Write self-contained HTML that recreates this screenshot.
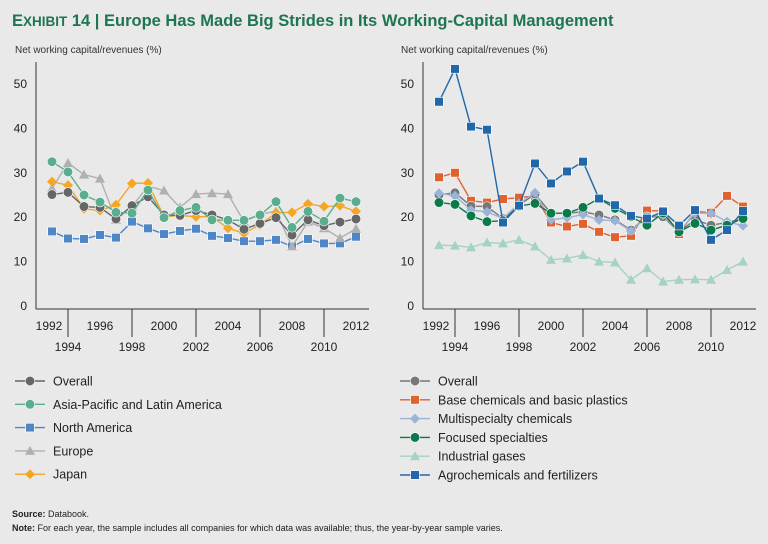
<!DOCTYPE html>
<html><head><meta charset="utf-8"><style>
body{margin:0;background:#e9e9e9;font-family:"Liberation Sans",sans-serif;}
#wrap{position:relative;width:768px;height:544px;overflow:hidden;background:#e9e9e9}
svg text{font-family:"Liberation Sans",sans-serif;}
</style></head><body><div id="wrap">
<svg id="svg" width="768" height="544">
<text x="12" y="26" fill="#1d7650" font-size="16.5" font-weight="bold">E<tspan font-size="13.5">XHIBIT</tspan> 14 | Europe Has Made Big Strides in Its Working-Capital Management</text>
<text x="15" y="53" fill="#333" font-size="10">Net working capital/revenues (%)</text>
<text x="401" y="53" fill="#333" font-size="10">Net working capital/revenues (%)</text>
<text x="12" y="517" fill="#222" font-size="9"><tspan font-weight="bold">Source:</tspan> Databook.</text>
<text x="12" y="531" fill="#222" font-size="9"><tspan font-weight="bold">Note:</tspan> For each year, the sample includes all companies for which data was available; thus, the year-by-year sample varies.</text>
</svg>
</div>
<script>
const years=[1993,1994,1995,1996,1997,1998,1999,2000,2001,2002,2003,2004,2005,2006,2007,2008,2009,2010,2011,2012];
const yTicks=[0,10,20,30,40,50];
const xTickYears=[1992,1994,1996,1998,2000,2002,2004,2006,2008,2010,2012];
// left chart
const leftOverall=[25.1,25.6,22.4,22.2,19.6,22.6,24.6,20.5,20.4,21.5,20.5,19.4,17.3,18.6,19.9,16.0,19.4,18.1,18.9,19.6];
const leftAsia=[32.5,30.2,25.0,23.4,21.1,20.9,26.1,19.9,21.5,22.2,19.4,19.3,19.3,20.5,23.5,17.7,21.3,19.1,24.3,23.5];
const leftNorthAmerica=[16.8,15.2,15.1,16.0,15.4,19.0,17.5,16.2,16.9,17.4,15.8,15.3,14.6,14.6,14.9,13.4,15.1,14.1,14.1,15.6];
const leftEurope=[26.5,32.2,29.6,28.7,19.4,22.4,27.0,26.0,22.2,25.2,25.4,25.2,19.0,20.7,21.3,13.4,19.0,17.5,15.3,17.4];
const leftJapan=[28.0,27.2,21.9,21.5,22.8,27.6,27.7,20.1,20.4,20.1,20.1,17.5,16.4,18.3,21.0,21.1,23.0,22.4,22.6,21.3];
// right chart
const rightOverall=[25.0,25.5,22.5,22.4,19.7,22.7,25.2,20.9,20.9,21.2,20.5,19.4,17.1,20.1,20.1,16.7,19.4,18.2,18.8,19.7];
const rightBase=[29.0,30.0,23.7,23.3,24.1,24.4,24.8,18.8,17.9,18.5,16.7,15.5,15.8,21.5,21.4,16.2,21.3,21.0,24.8,22.4];
const rightMulti=[25.4,24.8,21.6,21.2,19.7,23.1,25.5,19.4,19.9,20.6,19.4,19.2,16.9,20.1,20.5,16.7,20.9,20.9,19.0,18.1];
const rightFocused=[23.3,22.9,20.3,19.0,19.2,22.5,23.1,20.9,20.9,22.2,24.2,22.0,20.1,18.2,20.9,16.7,18.6,17.1,18.2,19.7];
const rightGases=[13.7,13.6,13.2,14.3,14.1,14.9,13.4,10.4,10.7,11.5,10.0,9.8,5.9,8.5,5.5,5.9,6.0,5.9,8.1,10.0];
const rightAgro=[46.0,53.4,40.4,39.7,18.8,22.6,32.1,27.6,30.3,32.5,24.2,22.7,20.3,19.7,21.3,18.1,21.6,14.9,17.1,21.4];

const NS="http://www.w3.org/2000/svg";
const svg=document.getElementById('svg');
function mk(tag,attrs){const e=document.createElementNS(NS,tag);for(const k in attrs)e.setAttribute(k,attrs[k]);svg.appendChild(e);return e;}
function yScale(v){return 306-v*4.44;}

function marker(shape,x,y,color){
  if(shape==='circle')return mk('circle',{cx:x,cy:y,r:4.8,fill:color,stroke:'#fff','stroke-width':0.6});
  if(shape==='square')return mk('rect',{x:x-4.3,y:y-4.3,width:8.6,height:8.6,fill:color,stroke:'#fff','stroke-width':0.6});
  if(shape==='triangle')return mk('polygon',{points:`${x},${y-5} ${x+5},${y+4} ${x-5},${y+4}`,fill:color});
  return mk('polygon',{points:`${x},${y-5} ${x+5},${y} ${x},${y+5} ${x-5},${y}`,fill:color});
}

function drawChart(x0,series,prefix){
  const xScale=yr=>x0+(yr-1992)*16;
  const ax=mk('line',{x1:x0,y1:62,x2:x0,y2:309,stroke:'#333','stroke-width':1});
  
  
  const bx=mk('line',{x1:x0,y1:309,x2:x0+333,y2:309,stroke:'#333','stroke-width':1});
  
  
  yTicks.forEach(t=>{
    const tx=mk('text',{x:x0-9,y:yScale(t)+4,'text-anchor':'end','font-size':12,fill:'#222'});
    tx.textContent=t;
    
    
  });
  xTickYears.forEach((yr,i)=>{
    const xx=xScale(yr);
    const low=i%2===1;
    if(low){
      const tk=mk('line',{x1:xx,y1:309,x2:xx,y2:337,stroke:'#333','stroke-width':1});
      
      
    }
    let lx=xx; if(yr===1992)lx=xx+13;
    const tx=mk('text',{x:lx,y:low?351:330,'text-anchor':'middle','font-size':12,fill:'#222'});
    tx.textContent=yr;
    
    
  });
  series.forEach(s=>{
    const pts=s.vals.map((v,i)=>xScale(years[i])+','+yScale(v)).join(' ');
    const pl=mk('polyline',{points:pts,fill:'none',stroke:s.color,'stroke-width':1.4});
    
    
    s.vals.forEach((v,i)=>{
      const m=marker(s.shape,xScale(years[i]),yScale(v),s.color);
      
      
    });
  });
}
function drawLegend(items,lx,ly,step){
  items.forEach((s,i)=>{
    const y=ly+i*step;
    const ll=mk('line',{x1:lx,y1:y,x2:lx+30,y2:y,stroke:s.color,'stroke-width':1.4});
    
    
    const m=marker(s.shape,lx+15,y,s.color);
    
    
    const t=mk('text',{x:lx+38,y:y+4.5,'font-size':12.5,fill:'#222'});
    t.textContent=s.label;
    
    
  });
}
drawChart(36,[
 {key:'north-america',vals:leftNorthAmerica,color:'#4f86c6',shape:'square'},
 {key:'europe',vals:leftEurope,color:'#b0b0b0',shape:'triangle'},
 {key:'japan',vals:leftJapan,color:'#f5a623',shape:'diamond'},
 {key:'overall',vals:leftOverall,color:'#666',shape:'circle'},
 {key:'asia',vals:leftAsia,color:'#5aae8e',shape:'circle'}
],'left');
drawLegend([
 {label:'Overall',color:'#666',shape:'circle'},
 {label:'Asia-Pacific and Latin America',color:'#5aae8e',shape:'circle'},
 {label:'North America',color:'#4f86c6',shape:'square'},
 {label:'Europe',color:'#b0b0b0',shape:'triangle'},
 {label:'Japan',color:'#f5a623',shape:'diamond'}],15,381,23.3);
drawChart(423,[
 {key:'gases',vals:rightGases,color:'#a5d3bf',shape:'triangle'},
 {key:'base',vals:rightBase,color:'#e0622f',shape:'square'},
 {key:'overall',vals:rightOverall,color:'#777',shape:'circle'},
 {key:'multi',vals:rightMulti,color:'#9ab3d8',shape:'diamond'},
 {key:'focused',vals:rightFocused,color:'#0b7a4a',shape:'circle'},
 {key:'agro',vals:rightAgro,color:'#2268a8',shape:'square'}
],'right');
drawLegend([
 {label:'Overall',color:'#777',shape:'circle'},
 {label:'Base chemicals and basic plastics',color:'#e0622f',shape:'square'},
 {label:'Multispecialty chemicals',color:'#9ab3d8',shape:'diamond'},
 {label:'Focused specialties',color:'#0b7a4a',shape:'circle'},
 {label:'Industrial gases',color:'#a5d3bf',shape:'triangle'},
 {label:'Agrochemicals and fertilizers',color:'#2268a8',shape:'square'}],400,381,18.8);
</script>
</body></html>
